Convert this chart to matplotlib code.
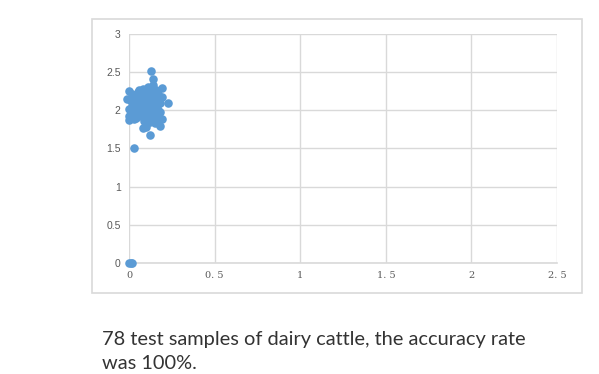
import matplotlib.pyplot as plt
from matplotlib.patches import Rectangle

# test sample scatter
x_vals = [
    0.00, 0.01, 0.02, 0.03,
    0.13, 0.14, 0.14, 0.23, 0.12, 0.08, 0.18, 0.19, 0.19, 0.19,
    0.00, 0.00, -0.01, 0.00, 0.01, 0.02, 0.03, 0.04, 0.05, 0.06,
    0.07, 0.08, 0.09, 0.10, 0.11, 0.12, 0.13, 0.15, 0.16, 0.17,
    0.02, 0.04, 0.06, 0.08, 0.10, 0.12, 0.14, 0.16, 0.18, 0.01,
    0.03, 0.05, 0.07, 0.09, 0.11, 0.13, 0.15, 0.17, 0.00, 0.02,
    0.04, 0.06, 0.08, 0.10, 0.12, 0.14, 0.16, 0.18, 0.05, 0.09,
    0.11, 0.13, 0.15, 0.17, 0.10, 0.07, 0.03, 0.12, 0.16, 0.06,
    0.11, 0.14, 0.09, 0.17,
]
y_vals = [
    0.00, 0.00, 0.00, 1.50,
    2.52, 2.41, 2.33, 2.10, 1.68, 1.77, 1.80, 2.29, 2.18, 1.88,
    2.25, 1.87, 2.15, 2.02, 1.95, 2.22, 2.10, 1.90, 2.05, 2.26,
    2.17, 2.28, 1.98, 2.12, 2.24, 1.85, 2.05, 2.20, 1.95, 2.08,
    2.00, 2.15, 1.92, 2.08, 2.20, 1.97, 2.14, 2.26, 1.98, 2.12,
    1.88, 2.24, 2.00, 1.86, 2.02, 2.28, 1.90, 2.22, 1.93, 2.06,
    2.02, 2.12, 1.95, 1.82, 2.16, 1.99, 2.04, 2.09, 1.95, 2.25,
    1.90, 2.19, 1.84, 2.00, 1.78, 2.18, 1.98, 2.08, 2.14, 2.22,
    2.30, 1.93, 2.05, 1.89,
]
x_ticks = [0, 0.5, 1, 1.5, 2, 2.5]
x_labels = ["0", "0. 5", "1", "1. 5", "2", "2. 5"]
y_ticks = [0, 0.5, 1, 1.5, 2, 2.5, 3]
y_labels = ["0", "0.5", "1", "1.5", "2", "2.5", "3"]
caption = "78 test samples of dairy cattle, the accuracy rate\nwas 100%."

fig = plt.figure(figsize=(5.99, 3.74), dpi=100)

# outer chart frame
fig.patches.append(Rectangle((0.1536, 0.2166), 0.8180, 0.7326, transform=fig.transFigure,
                             fill=False, edgecolor="#d9d9d9", linewidth=1.2))

ax = fig.add_axes([0.2154, 0.2968, 0.7145, 0.6123])
ax.scatter(x_vals, y_vals, s=38, color="#5b9bd5", zorder=3, linewidths=0, clip_on=False)

ax.set_xlim(0, 2.5)
ax.set_ylim(0, 3)
ax.set_xticks(x_ticks)
ax.set_xticklabels(x_labels, family="DejaVu Serif", fontsize=7, color="#595959")
ax.set_yticks(y_ticks)
ax.set_yticklabels(y_labels, family="Liberation Sans", fontsize=7.5, color="#595959")
ax.tick_params(length=0, pad=6)
ax.grid(True, color="#d9d9d9", linewidth=1)
ax.set_axisbelow(True)
for side in ["top", "right", "left"]:
    ax.spines[side].set_visible(False)
ax.spines["bottom"].set_color("#d9d9d9")
ax.spines["bottom"].set_linewidth(1.2)

fig.text(0.170, 0.060, caption, family="Lato", fontsize=14.4, color="#333333",
         va="center", ha="left", linespacing=1.45)

fig.savefig("out.png", dpi=100)
